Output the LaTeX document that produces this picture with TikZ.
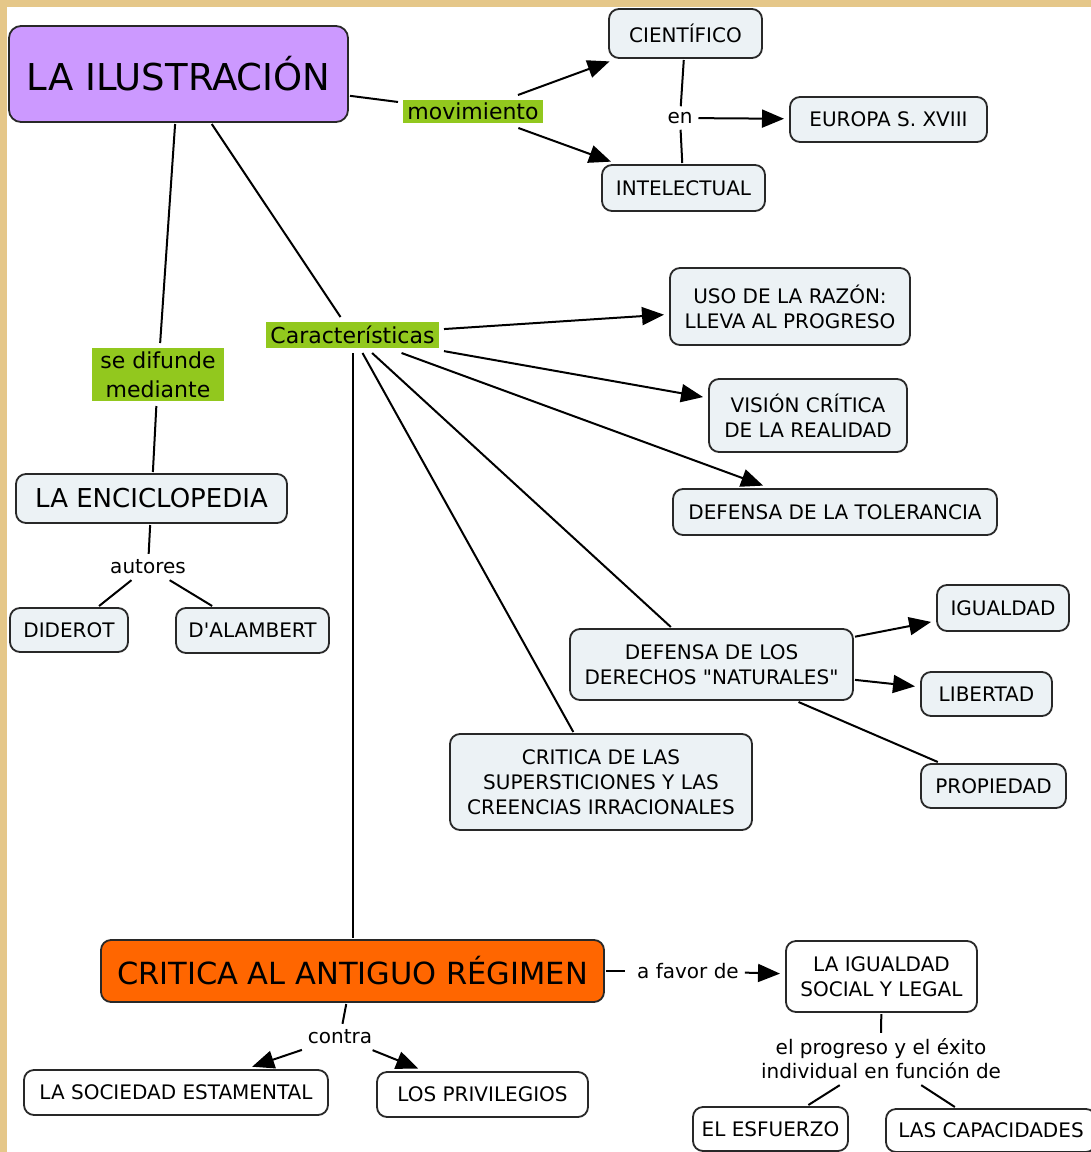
\documentclass[tikz,border=0pt]{standalone}
\usepackage{fontspec}
\setmainfont{DejaVu Sans}
\newfontfamily\dvfont{DejaVu Sans}
\usetikzlibrary{arrows.meta}
\definecolor{tanbg}{RGB}{229,199,137}
\definecolor{boxfill}{RGB}{236,242,245}
\definecolor{lblgreen}{RGB}{146,200,30}
\definecolor{purp}{RGB}{204,153,255}
\definecolor{orng}{RGB}{255,102,0}
\definecolor{edgecol}{RGB}{40,40,40}
\newcommand{\myfs}[2]{\dvfont\fontsize{#1}{#2}\selectfont}
\begin{document}
\begin{tikzpicture}[x=1pt,y=-1pt,
  box/.style={draw=edgecol, line width=1.8pt, rounded corners=10pt, fill=boxfill, align=center, inner sep=0pt, outer sep=2pt, font=\myfs{20}{25}},
  wbox/.style={box, fill=white},
  lbl/.style={fill=lblgreen, inner sep=1pt, outer sep=5pt, align=center, font=\myfs{22}{29}},
  txt/.style={inner sep=1pt, outer sep=5pt, align=center, font=\myfs{20}{24}},
  ln/.style={draw=black, line width=2pt},
  arr/.style={ln, -{Triangle[length=22pt,width=18pt]}, shorten >=4pt},
  sz/.style 2 args={minimum width=#1pt, minimum height=#2pt}
]
\path[use as bounding box] (0,0) rectangle (1091,1152);
\clip (0,0) rectangle (1091,1152);
\fill[white] (0,0) rectangle (1091,1152);
\fill[tanbg] (0,0) rectangle (1091,7);
\fill[tanbg] (0,0) rectangle (7,1152);

% nodes
\node[box, fill=purp, rounded corners=12pt, sz={339}{96}, font=\myfs{37}{40}] (ilus) at (178.5,74) {LA ILUSTRACIÓN};
\node[lbl, sz={140}{23}] (mov) at (473,111.5) {movimiento};
\node[box, sz={153}{49}] (cie) at (685.5,33.5) {CIENTÍFICO};
\node[box, sz={163}{46}] (int) at (683.5,188) {INTELECTUAL};
\node[txt] (en) at (680,118) {en};
\node[box, sz={197}{45}] (eur) at (888.5,119.5) {EUROPA S. XVIII};

\node[lbl, sz={173}{26}] (car) at (352.5,335) {Características};
\node[lbl, sz={132}{53}] (dif) at (158,374.5) {se difunde\\mediante};

\node[box, sz={271}{49}, font=\myfs{26}{30}] (enc) at (151.5,498.5) {LA ENCICLOPEDIA};
\node[txt] (aut) at (148,567) {autores};
\node[box, sz={118}{44}] (did) at (69,630) {DIDEROT};
\node[box, sz={153}{45}] (dal) at (252.5,630.5) {D'ALAMBERT};

\node[box, sz={240}{77}] (uso) at (790,306.5) {USO DE LA RAZÓN:\\LLEVA AL PROGRESO};
\node[box, sz={198}{73}] (vis) at (808,415.5) {VISIÓN CRÍTICA\\DE LA REALIDAD};
\node[box, sz={324}{46}] (tol) at (835,512) {DEFENSA DE LA TOLERANCIA};
\node[box, sz={283}{71}] (der) at (711.5,664.5) {DEFENSA DE LOS\\DERECHOS "NATURALES"};
\node[box, sz={132}{46}] (igu) at (1003,608) {IGUALDAD};
\node[box, sz={131}{44}] (lib) at (986.5,694) {LIBERTAD};
\node[box, sz={145}{44}] (pro) at (993.5,786) {PROPIEDAD};
\node[box, sz={302}{96}] (sup) at (601,782) {CRITICA DE LAS\\SUPERSTICIONES Y LAS\\CREENCIAS IRRACIONALES};

\node[box, fill=orng, sz={503}{62}, font=\myfs{30.5}{34}] (ant) at (352.5,971) {CRITICA AL ANTIGUO RÉGIMEN};
\node[txt] (con) at (340,1037) {contra};
\node[wbox, sz={304}{45}] (soc) at (176,1092.5) {LA SOCIEDAD ESTAMENTAL};
\node[wbox, sz={211}{45}] (pri) at (482.5,1094.5) {LOS PRIVILEGIOS};
\node[txt] (fav) at (688,971) {a favor de};
\node[wbox, sz={191}{71}] (igs) at (881.5,976.5) {LA IGUALDAD\\SOCIAL Y LEGAL};
\node[txt] (prog) at (881,1059) {el progreso y el éxito\\individual en función de};
\node[wbox, sz={155}{44}] (esf) at (770.5,1129) {EL ESFUERZO};
\node[wbox, sz={210}{43}] (cap) at (991,1130.5) {LAS CAPACIDADES};

% connectors
\draw[ln] (ilus) -- (mov);
\draw[arr] (mov) -- (cie);
\draw[arr] (mov) -- (int);
\draw[ln] (cie) -- (en);
\draw[ln] (int) -- (en);
\draw[arr] (en) -- (eur);
\draw[ln] (ilus) -- (dif);
\draw[ln] (dif) -- (enc);
\draw[ln] (enc) -- (aut);
\draw[ln] (aut) -- (did);
\draw[ln] (aut) -- (dal);
\draw[ln] (ilus) -- (car);
\draw[arr] (car) -- (uso);
\draw[arr] (car) -- (vis);
\draw[arr] (car) -- (tol);
\draw[ln] (car) -- (der);
\draw[ln] (car) -- (sup);
\draw[ln] (car) -- (ant);
\draw[arr] (der) -- (igu);
\draw[arr] (der) -- (lib);
\draw[ln] (der) -- (pro);
\draw[ln] (ant) -- (con);
\draw[arr] (con) -- (soc);
\draw[arr] (con) -- (pri);
\draw[ln, shorten >=6pt] (ant) -- (fav);
\draw[arr] (fav) -- (igs);
\draw[ln] (igs) -- (prog);
\draw[ln] (prog) -- (esf);
\draw[ln] (prog) -- (cap);
\end{tikzpicture}
\end{document}
